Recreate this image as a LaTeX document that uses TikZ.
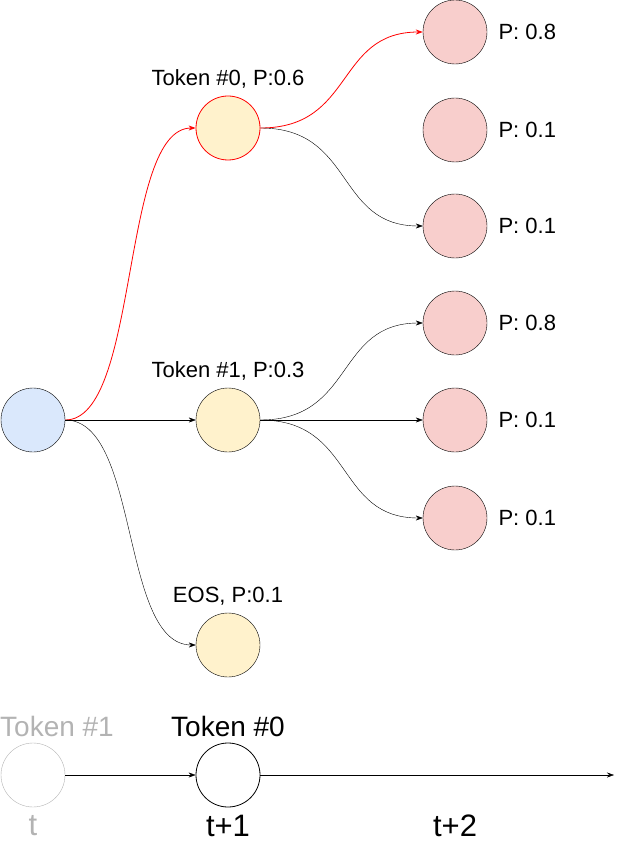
\documentclass[tikz,border=0pt]{standalone}
\usepackage{fontspec}
\setmainfont{Liberation Sans}
\usetikzlibrary{arrows.meta}
\definecolor{rootfill}{HTML}{DAE8FC}
\definecolor{tokfill}{HTML}{FFF2CC}
\definecolor{nextfill}{HTML}{F8CECC}
\definecolor{pastgray}{HTML}{B3B3B3}
\tikzset{
  tok/.style={circle, draw, thin, minimum size=64pt, inner sep=0pt},
  edge/.style={draw, thin, -{Stealth[length=7pt,width=5pt]}},
  best/.style={draw=red, thick, -{Stealth[length=7pt,width=5pt]}},
  lab/.style={font=\fontsize{22}{24}\selectfont},
  big/.style={font=\fontsize{28}{30}\selectfont}
}
\begin{document}
\begin{tikzpicture}[x=1pt,y=-1pt]
            \useasboundingbox (0,0) rectangle (616,842);

            \node[tok, fill=rootfill] (root) at (33,420) {};

            \node[tok, fill=tokfill, draw=red, thick] (t0) at (228,128) {};
            \node[tok, fill=tokfill] (t1) at (228,420) {};
            \node[tok, fill=tokfill] (eos) at (228,645) {};
            \node[lab, above=4pt] at (t0.north) {Token \#0, P:0.6};
            \node[lab, above=4pt] at (t1.north) {Token \#1, P:0.3};
            \node[lab, above=4pt] at (eos.north) {EOS, P:0.1};

            % next step
            \foreach \n/\y/\p in {a/32/0.8, b/130/0.1, c/226/0.1, d/323/0.8, e/420/0.1, f/518/0.1} {
                \node[tok, fill=nextfill] (\n) at (455,\y) {};
                \node[lab, anchor=west] at (495,\y) {P: \p};
            }

            \draw[best] (root.east) .. controls (140,420) and (120,128) .. (t0.west);
            \draw[edge] (root.east) -- (t1.west);
            \draw[edge] (root.east) .. controls (140,420) and (120,645) .. (eos.west);

            \draw[best] (t0.east) .. controls (355,128) and (335,32) .. (a.west);
            \draw[edge] (t0.east) .. controls (355,128) and (335,226) .. (c.west);

            \draw[edge] (t1.east) .. controls (355,420) and (335,323) .. (d.west);
            \draw[edge] (t1.east) -- (e.west);
            \draw[edge] (t1.east) .. controls (355,420) and (335,518) .. (f.west);

            % timeline
            \node[tok, draw=pastgray] (p0) at (33,775) {};
            \node[tok, thick] (p1) at (228,775) {};
            \coordinate (p2) at (614,775);
            \node[big, above=2pt] (lab1) at (p1.north) {Token \#0};
            \node[big, text=pastgray, anchor=base west, inner sep=0pt] at (0,0 |- lab1.base) {Token \#1};
            \draw[edge] (p0) -- (p1);
            \draw[edge] (p1) -- (p2);
            \node[font=\fontsize{31}{33}\selectfont, text=pastgray] at (33,826) {t};
            \node[font=\fontsize{31}{33}\selectfont] at (228,826) {t+1};
            \node[font=\fontsize{31}{33}\selectfont] at (455,826) {t+2};
\end{tikzpicture}
\end{document}
